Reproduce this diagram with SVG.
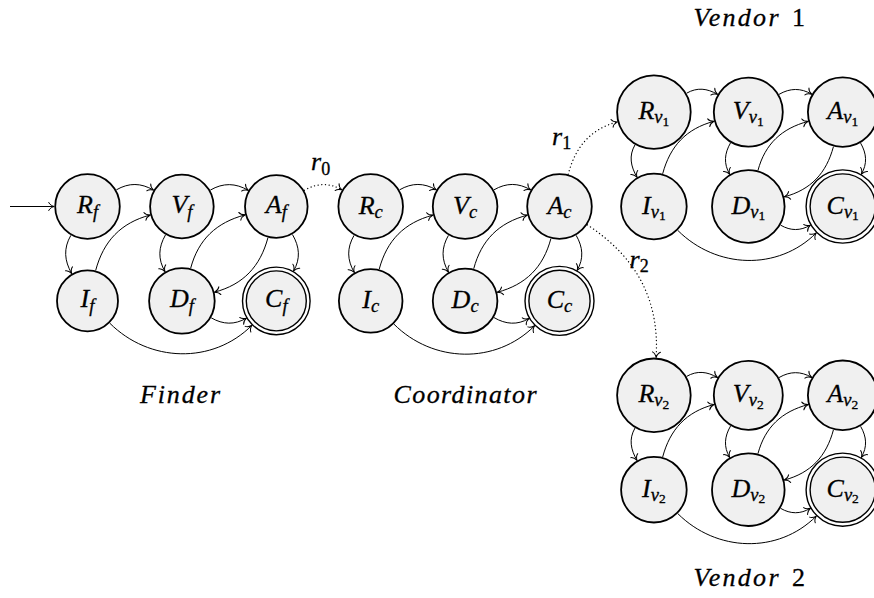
<svg xmlns="http://www.w3.org/2000/svg" width="874" height="598" viewBox="0 0 874 598">
<defs>
<style>
.st{fill:#f0f0f0;stroke:#000;stroke-width:1.8}
.ao{fill:#fff;stroke:#000;stroke-width:1.4}
.ai{fill:#f0f0f0;stroke:#000;stroke-width:1.4}
.tx{font-family:'Liberation Serif','Times New Roman',serif;fill:#000;stroke:#000;stroke-width:0.3}
.lbl{font-size:26px;font-style:italic;text-anchor:middle}
.sub{font-size:18.5px;font-style:italic}
.ss{font-size:13.5px;font-style:normal}
.dg{font-size:18px;font-style:normal}
.ttl{font-size:26px;font-style:italic}
.num{font-size:26px;font-style:normal}
.edge{fill:none;stroke:#000;stroke-width:1;marker-end:url(#ah)}
.dot{fill:none;stroke:#000;stroke-width:1.3;stroke-dasharray:0.1 3.6;stroke-linecap:round;marker-end:url(#ah)}
</style>
<marker id="ah" markerWidth="10" markerHeight="12" viewBox="-8 -6 10 12" refX="0" refY="0" orient="auto" markerUnits="userSpaceOnUse">
<path d="M-5.5,-4 C-4.5,-1.5 -1.5,-0.4 0,0 C-1.5,0.4 -4.5,1.5 -5.5,4" fill="none" stroke="#000" stroke-width="1" stroke-dasharray="none" stroke-linecap="round"/>
</marker>
</defs>
<rect width="874" height="598" fill="#fff"/>

<g id="connectors">
<path class="edge" d="M10,206.5 L54.2,206.5"/>
<path class="edge" d="M116.34,189.85 C128.98,182.55 140.86,182.8 153.5,190.1"/>
<path class="edge" d="M210.3,190.1 C223.2,182.65 235.43,182.9 248.33,190.35"/>
<path class="edge" d="M70.85,235.34 C63.35,248.33 64.25,260.63 71.75,273.62"/>
<path class="edge" d="M165.5,234.9 C158.3,247.37 157.8,259.16 165,271.63"/>
<path class="edge" d="M292.45,234.47 C299.6,246.85 300.7,258.64 293.55,271.02"/>
<path class="edge" d="M95.65,270.47 C103.54,241.01 120.76,222.88 150.22,214.99"/>
<path class="edge" d="M190.65,268.25 C198.39,239.37 216.22,222.6 245.1,214.86"/>
<path class="edge" d="M267.94,237.7 C260.2,266.58 243.43,284.41 214.55,292.15"/>
<path class="edge" d="M211.17,317.8 C223.12,324.7 234.47,325.05 246.42,318.15"/>
<path class="edge" d="M109.77,323.17 C149.15,362.55 212.53,364.67 251.91,325.29"/>
<path class="edge" d="M399.54,189.85 C412.01,182.65 423.79,182.65 436.26,189.85"/>
<path class="edge" d="M493.94,189.85 C506.41,182.65 518.19,182.65 530.66,189.85"/>
<path class="edge" d="M354.05,235.34 C346.75,247.98 347,259.86 354.3,272.5"/>
<path class="edge" d="M448.45,235.34 C441.25,247.81 441.25,259.59 448.45,272.06"/>
<path class="edge" d="M576.15,235.34 C583,247.2 583.95,258.56 577.1,270.42"/>
<path class="edge" d="M379.19,269.22 C386.93,240.34 404.06,222.86 432.94,215.12"/>
<path class="edge" d="M473.72,268.74 C481.41,240.05 498.65,222.81 527.34,215.12"/>
<path class="edge" d="M550.88,238.66 C543.19,267.35 525.95,284.59 497.26,292.28"/>
<path class="edge" d="M493.94,317.55 C505.8,324.4 517.16,325.35 529.02,318.5"/>
<path class="edge" d="M393.89,324.09 C432.85,363.05 495.65,364.75 534.61,325.79"/>
<g id="v1-edges">
<path class="edge" d="M686.63,93.2 C697.11,87.15 707.08,88.3 717.56,94.35"/>
<path class="edge" d="M779.04,94.35 C790.12,87.95 800.62,87.8 811.7,94.2"/>
<path class="edge" d="M635,144.83 C628.65,155.83 630.65,166.23 637,177.23"/>
<path class="edge" d="M730.55,142.84 C724.4,153.49 723.5,163.55 729.65,174.2"/>
<path class="edge" d="M860.6,143.1 C866.7,153.67 867.45,163.63 861.35,174.2"/>
<path class="edge" d="M662.65,173.85 C670.1,146.03 686.19,128.74 714.01,121.29"/>
<path class="edge" d="M757.95,170.47 C765.07,143.91 781.56,128.49 808.12,121.37"/>
<path class="edge" d="M833.43,146.68 C826.31,173.24 810.89,189.73 784.33,196.85"/>
<path class="edge" d="M780.6,225.15 C790.73,231 800.27,231 810.4,225.15"/>
<path class="edge" d="M677.8,230.4 C716.2,268.8 777.93,271.27 816.33,232.87"/>
</g>
<g id="v2-edges" transform="translate(0,283.2)">
<path class="edge" d="M686.63,93.2 C697.11,87.15 707.08,88.3 717.56,94.35"/>
<path class="edge" d="M779.04,94.35 C790.12,87.95 800.62,87.8 811.7,94.2"/>
<path class="edge" d="M635,144.83 C628.65,155.83 630.65,166.23 637,177.23"/>
<path class="edge" d="M730.55,142.84 C724.4,153.49 723.5,163.55 729.65,174.2"/>
<path class="edge" d="M860.6,143.1 C866.7,153.67 867.45,163.63 861.35,174.2"/>
<path class="edge" d="M662.65,173.85 C670.1,146.03 686.19,128.74 714.01,121.29"/>
<path class="edge" d="M757.95,170.47 C765.07,143.91 781.56,128.49 808.12,121.37"/>
<path class="edge" d="M833.43,146.68 C826.31,173.24 810.89,189.73 784.33,196.85"/>
<path class="edge" d="M780.6,225.15 C790.73,231 800.27,231 810.4,225.15"/>
<path class="edge" d="M677.8,230.4 C716.2,268.8 777.93,271.27 816.33,232.87"/>
</g>
<path class="dot" d="M304.27,190.35 C317,183 329.13,182.5 341.86,189.85"/>
<path class="dot" d="M568.12,174.34 C575.42,147.1 590.15,129.18 617.39,121.88"/>
<path class="dot" d="M587.3,224.83 C636.14,257.03 659.61,299.18 656.14,357.57"/>
<text class="tx lbl" x="311" y="170" style="text-anchor:start">r<tspan class="dg" dy="5">0</tspan></text>
<text class="tx lbl" x="552" y="145" style="text-anchor:start">r<tspan class="dg" dy="3.5">1</tspan></text>
<text class="tx lbl" x="629.5" y="268.3" style="text-anchor:start">r<tspan class="dg" dy="3.5">2</tspan></text>
</g>

<g id="Rf"><circle class="st" cx="87.5" cy="206.5" r="32.3"/><text class="tx lbl" x="87.5" y="212.5">R<tspan class="sub" dy="5">f</tspan></text></g>
<g id="Vf"><circle class="st" cx="181.9" cy="206.5" r="31.8"/><text class="tx lbl" x="181.9" y="212.5">V<tspan class="sub" dy="5">f</tspan></text></g>
<g id="Af"><circle class="st" cx="276.3" cy="206.5" r="31.3"/><text class="tx lbl" x="276.3" y="212.5">A<tspan class="sub" dy="5">f</tspan></text></g>
<g id="If"><circle class="st" cx="87.5" cy="300.9" r="30.5"/><text class="tx lbl" x="87.5" y="306.9">I<tspan class="sub" dy="5">f</tspan></text></g>
<g id="Df"><circle class="st" cx="181.9" cy="300.9" r="32.8"/><text class="tx lbl" x="181.9" y="306.9">D<tspan class="sub" dy="5">f</tspan></text></g>
<g id="Cf"><circle class="ao" cx="276.3" cy="300.9" r="33.8"/><circle class="ai" cx="276.3" cy="300.9" r="30"/><text class="tx lbl" x="276.3" y="306.9">C<tspan class="sub" dy="5">f</tspan></text></g>

<g id="Rc"><circle class="st" cx="370.7" cy="206.5" r="32.3"/><text class="tx lbl" x="370.7" y="214">R<tspan class="sub" dy="4">c</tspan></text></g>
<g id="Vc"><circle class="st" cx="465.1" cy="206.5" r="32.3"/><text class="tx lbl" x="465.1" y="214">V<tspan class="sub" dy="4">c</tspan></text></g>
<g id="Ac"><circle class="st" cx="559.5" cy="206.5" r="32.3"/><text class="tx lbl" x="559.5" y="214">A<tspan class="sub" dy="4">c</tspan></text></g>
<g id="Ic"><circle class="st" cx="370.7" cy="300.9" r="31.8"/><text class="tx lbl" x="370.7" y="308.4">I<tspan class="sub" dy="4">c</tspan></text></g>
<g id="Dc"><circle class="st" cx="465.1" cy="300.9" r="32.3"/><text class="tx lbl" x="465.1" y="308.4">D<tspan class="sub" dy="4">c</tspan></text></g>
<g id="Cc"><circle class="ao" cx="559.5" cy="300.9" r="34.5"/><circle class="ai" cx="559.5" cy="300.9" r="30.6"/><text class="tx lbl" x="559.5" y="308.4">C<tspan class="sub" dy="4">c</tspan></text></g>

<g id="Rv1"><circle class="st" cx="653.9" cy="112.1" r="36.8"/><text class="tx lbl" x="653.9" y="119.1">R<tspan class="sub" dy="4">v</tspan><tspan class="ss" dy="2.5">1</tspan></text></g>
<g id="Vv1"><circle class="st" cx="748.3" cy="112.1" r="34.5"/><text class="tx lbl" x="748.3" y="119.1">V<tspan class="sub" dy="4">v</tspan><tspan class="ss" dy="2.5">1</tspan></text></g>
<g id="Av1"><circle class="st" cx="842.7" cy="112.1" r="34.8"/><text class="tx lbl" x="842.7" y="119.1">A<tspan class="sub" dy="4">v</tspan><tspan class="ss" dy="2.5">1</tspan></text></g>
<g id="Iv1"><circle class="st" cx="653.9" cy="206.5" r="32.8"/><text class="tx lbl" x="653.9" y="213.5">I<tspan class="sub" dy="4">v</tspan><tspan class="ss" dy="2.5">1</tspan></text></g>
<g id="Dv1"><circle class="st" cx="748.3" cy="206.5" r="36.3"/><text class="tx lbl" x="748.3" y="213.5">D<tspan class="sub" dy="4">v</tspan><tspan class="ss" dy="2.5">1</tspan></text></g>
<g id="Cv1"><circle class="ao" cx="842.7" cy="206.5" r="36.6"/><circle class="ai" cx="842.7" cy="206.5" r="32.6"/><text class="tx lbl" x="842.7" y="213.5">C<tspan class="sub" dy="4">v</tspan><tspan class="ss" dy="2.5">1</tspan></text></g>

<g id="Rv2"><circle class="st" cx="653.9" cy="395.3" r="36.8"/><text class="tx lbl" x="653.9" y="402.3">R<tspan class="sub" dy="4">v</tspan><tspan class="ss" dy="2.5">2</tspan></text></g>
<g id="Vv2"><circle class="st" cx="748.3" cy="395.3" r="34.5"/><text class="tx lbl" x="748.3" y="402.3">V<tspan class="sub" dy="4">v</tspan><tspan class="ss" dy="2.5">2</tspan></text></g>
<g id="Av2"><circle class="st" cx="842.7" cy="395.3" r="34.8"/><text class="tx lbl" x="842.7" y="402.3">A<tspan class="sub" dy="4">v</tspan><tspan class="ss" dy="2.5">2</tspan></text></g>
<g id="Iv2"><circle class="st" cx="653.9" cy="489.7" r="32.8"/><text class="tx lbl" x="653.9" y="496.7">I<tspan class="sub" dy="4">v</tspan><tspan class="ss" dy="2.5">2</tspan></text></g>
<g id="Dv2"><circle class="st" cx="748.3" cy="489.7" r="36.3"/><text class="tx lbl" x="748.3" y="496.7">D<tspan class="sub" dy="4">v</tspan><tspan class="ss" dy="2.5">2</tspan></text></g>
<g id="Cv2"><circle class="ao" cx="842.7" cy="489.7" r="36.6"/><circle class="ai" cx="842.7" cy="489.7" r="32.6"/><text class="tx lbl" x="842.7" y="496.7">C<tspan class="sub" dy="4">v</tspan><tspan class="ss" dy="2.5">2</tspan></text></g>

<g id="titles">
<text class="tx ttl" x="140" y="403" textLength="80" lengthAdjust="spacing">Finder</text>
<text class="tx ttl" x="393.5" y="403" textLength="143" lengthAdjust="spacing">Coordinator</text>
<text class="tx ttl" x="693.5" y="26" textLength="85" lengthAdjust="spacing">Vendor</text>
<text class="tx num" x="792" y="26">1</text>
<text class="tx ttl" x="693.5" y="586" textLength="85" lengthAdjust="spacing">Vendor</text>
<text class="tx num" x="792" y="586">2</text>
</g>
</svg>
